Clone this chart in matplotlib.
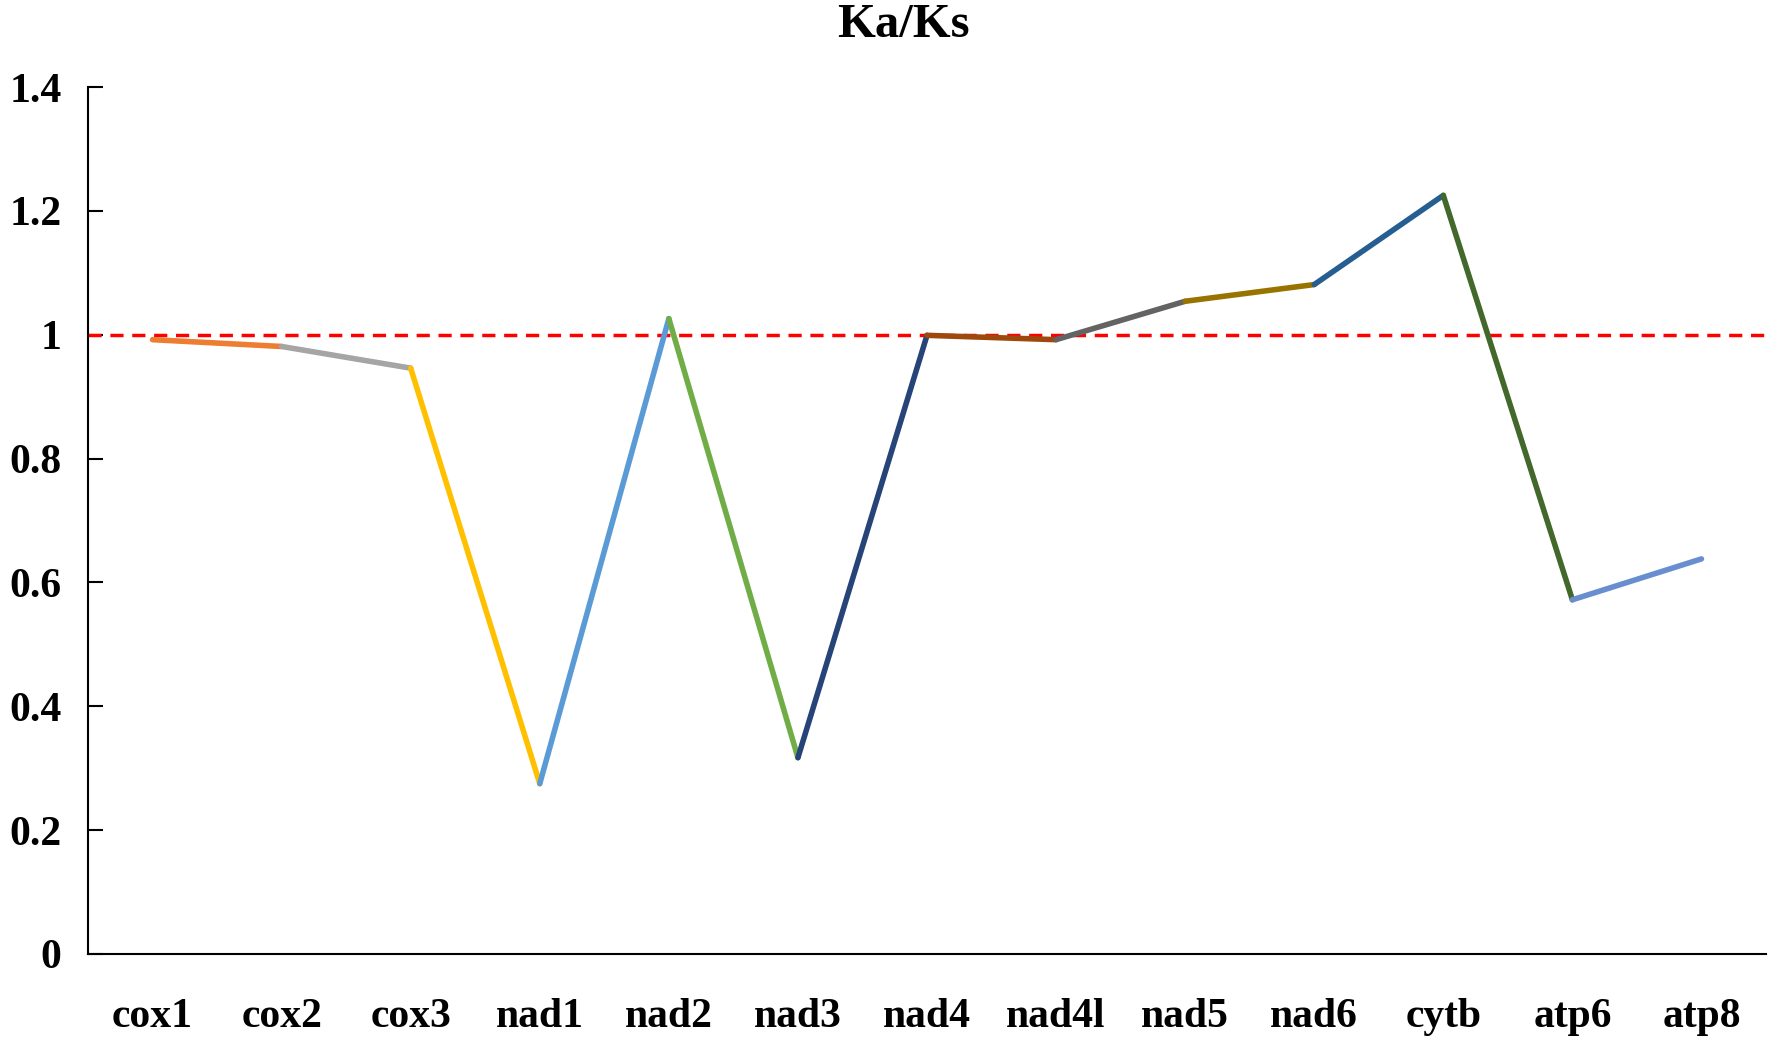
import matplotlib
matplotlib.use("Agg")
import matplotlib.pyplot as plt

genes = ["cox1", "cox2", "cox3", "nad1", "nad2", "nad3", "nad4", "nad4l",
         "nad5", "nad6", "cytb", "atp6", "atp8"]
kaks = [0.992, 0.981, 0.946, 0.275, 1.026, 0.317, 0.999, 0.992,
        1.054, 1.081, 1.225, 0.572, 0.638]
seg_colors = ["#ED7D31", "#A5A5A5", "#FFC000", "#5B9BD5", "#70AD47", "#264478",
              "#9E480E", "#636363", "#997300", "#255E91", "#43682B", "#698ED0"]
y_ticks = [0, 0.2, 0.4, 0.6, 0.8, 1.0, 1.2, 1.4]
y_tick_labels = ["0", "0.2", "0.4", "0.6", "0.8", "1", "1.2", "1.4"]
threshold = 1.0

plt.rcParams['font.family'] = ['Liberation Serif', 'DejaVu Serif']
plt.rcParams['font.weight'] = 'bold'

fig = plt.figure(figsize=(17.7, 10.38), dpi=100)
ax = fig.add_axes([88/1770, 84/1038, (1766-88)/1770, (954-87)/1038])

x = list(range(len(genes)))
for i in range(len(genes) - 1):
    ax.plot(x[i:i+2], kaks[i:i+2], color=seg_colors[i], lw=4.0,
            solid_capstyle='round', solid_joinstyle='round', zorder=3)

ax.axhline(threshold, color="#FF0000", lw=2.5, ls=(0, (3.8, 2.5)), zorder=2)

ax.set_xlim(-0.5, len(genes) - 0.5)
ax.set_ylim(0, 1.4)
ax.set_xticks(x)
ax.set_xticklabels(genes, fontsize=30, fontweight='bold')
ax.set_yticks(y_ticks)
ax.set_yticklabels(y_tick_labels, fontsize=30, fontweight='bold')
ax.tick_params(axis='x', length=0, pad=32)
ax.tick_params(axis='y', direction='in', length=11, width=1.5, pad=19)
for s in ['top', 'right']:
    ax.spines[s].set_visible(False)
for s in ['left', 'bottom']:
    ax.spines[s].set_linewidth(1.5)

fig.text(903/1770, 1 - 25/1038, "Ka/Ks", ha='center', va='center',
         fontsize=35, fontweight='bold')

fig.savefig("out.png", dpi=100)
